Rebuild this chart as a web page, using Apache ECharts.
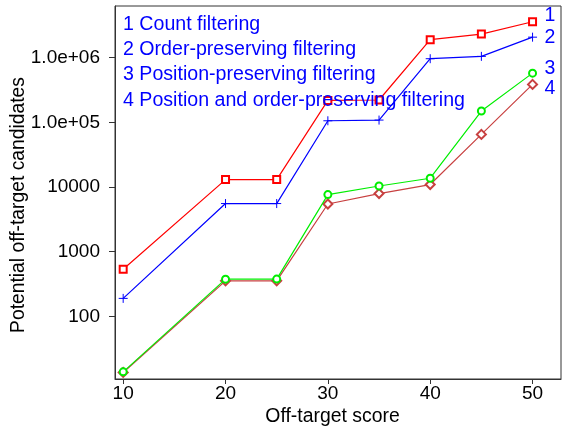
<!DOCTYPE html>
<html>
<head>
<meta charset="utf-8">
<script src="https://cdn.jsdelivr.net/npm/echarts@6/dist/echarts.min.js"></script>
<style>
html,body{margin:0;padding:0;background:#fff;}
#chart{width:563px;height:427px;}
</style>
</head>
<body>
<div id="chart"></div>
<script>
var scores = [10, 20, 25, 30, 35, 40, 45, 50];
var countFiltering = [537, 13060, 13060, 219000, 222000, 1900000, 2320000, 3600000];
var orderPreserving = [190, 5560, 5560, 106000, 108700, 966000, 1050000, 2080000];
var positionPreserving = [13.9, 377, 378, 7650, 10400, 13700, 150000, 578000];
var positionOrderPreserving = [13.6, 355, 355, 5480, 7940, 10940, 65300, 387000];
var seriesNames = ['1 Count filtering', '2 Order-preserving filtering', '3 Position-preserving filtering', '4 Position and order-preserving filtering'];
var endTags = ['1', '2', '3', '4'];
var xTicks = [10, 20, 30, 40, 50];
var yTicks = [100, 1000, 10000, 100000, 1000000];
var yTickLabels = ['100', '1000', '10000', '1.0e+05', '1.0e+06'];

var FONT = "'Liberation Sans', Arial, sans-serif";
var chart = echarts.init(document.getElementById('chart'), null, {renderer: 'canvas'});

function pairs(arr) { return scores.map(function (s, i) { return [s, arr[i]]; }); }

var colors = ['#ff0000', '#0000ff', '#00ee00', '#c84040'];
var symbols = ['emptyRect', 'path://M0,5L10,5M5,0L5,10', 'emptyCircle', 'emptyDiamond'];
var sizes = [7, 9, 7, 9];
var offs = [[12, -6], [12, 0], [12, -5], [12, 4]];
var datasets = [countFiltering, orderPreserving, positionPreserving, positionOrderPreserving];

var series = datasets.map(function (d, i) {
  return {
    type: 'line',
    name: seriesNames[i],
    data: pairs(d),
    symbol: symbols[i],
    symbolSize: sizes[i],
    showAllSymbol: true,
    lineStyle: {color: colors[i], width: 1.2},
    itemStyle: {color: colors[i], borderColor: colors[i], borderWidth: 1},
    emphasis: {disabled: true},
    animation: false,
    z: 10 - i,
    endLabel: {
      show: true,
      formatter: endTags[i],
      color: '#0000ff',
      fontSize: 19.5,
      fontFamily: FONT,
      distance: 0,
      offset: offs[i]
    }
  };
});

var legendGraphics = seriesNames.map(function (n, i) {
  return {
    type: 'text',
    left: 123,
    top: [15, 40, 65, 91][i],
    style: {text: n, fill: '#0000ff', fontSize: 19.6, fontFamily: FONT},
    z: 100
  };
});

chart.setOption({
  backgroundColor: '#fff',
  animation: false,
  grid: {left: 115, top: 6, right: 2, bottom: 48, show: true, borderColor: '#333', borderWidth: 1, backgroundColor: 'transparent'},
  xAxis: {
    type: 'value',
    min: 9.2,
    max: 52.78,
    splitLine: {show: false},
    axisLine: {lineStyle: {color: '#333'}},
    axisTick: {show: true, length: 5, lineStyle: {color: '#333'}, customValues: xTicks},
    axisLabel: {customValues: xTicks, fontSize: 19, color: '#000', fontFamily: FONT, margin: 5}
  },
  yAxis: {
    type: 'log',
    logBase: 10,
    min: 10.77,
    max: 6310000,
    splitLine: {show: false},
    axisLine: {show: true, lineStyle: {color: '#333'}},
    axisTick: {show: true, length: 6, lineStyle: {color: '#333'}, customValues: yTicks},
    axisLabel: {
      customValues: yTicks,
      fontSize: 19, color: '#000', fontFamily: FONT, margin: 15,
      formatter: function (v) {
        for (var i = 0; i < yTicks.length; i++) {
          if (Math.abs(v - yTicks[i]) / yTicks[i] < 1e-6) return yTickLabels[i];
        }
        return '';
      }
    }
  },
  graphic: legendGraphics.concat([
    {type: 'text', x: 332.5, y: 417, style: {text: 'Off-target score', fill: '#000', fontSize: 19.4, fontFamily: FONT, align: 'center', verticalAlign: 'middle'}},
    {type: 'text', x: 19, y: 205, rotation: Math.PI / 2, style: {text: 'Potential off-target candidates', fill: '#000', fontSize: 19.3, fontFamily: FONT, align: 'center', verticalAlign: 'middle'}}
  ]),
  series: series
});
</script>
</body>
</html>
